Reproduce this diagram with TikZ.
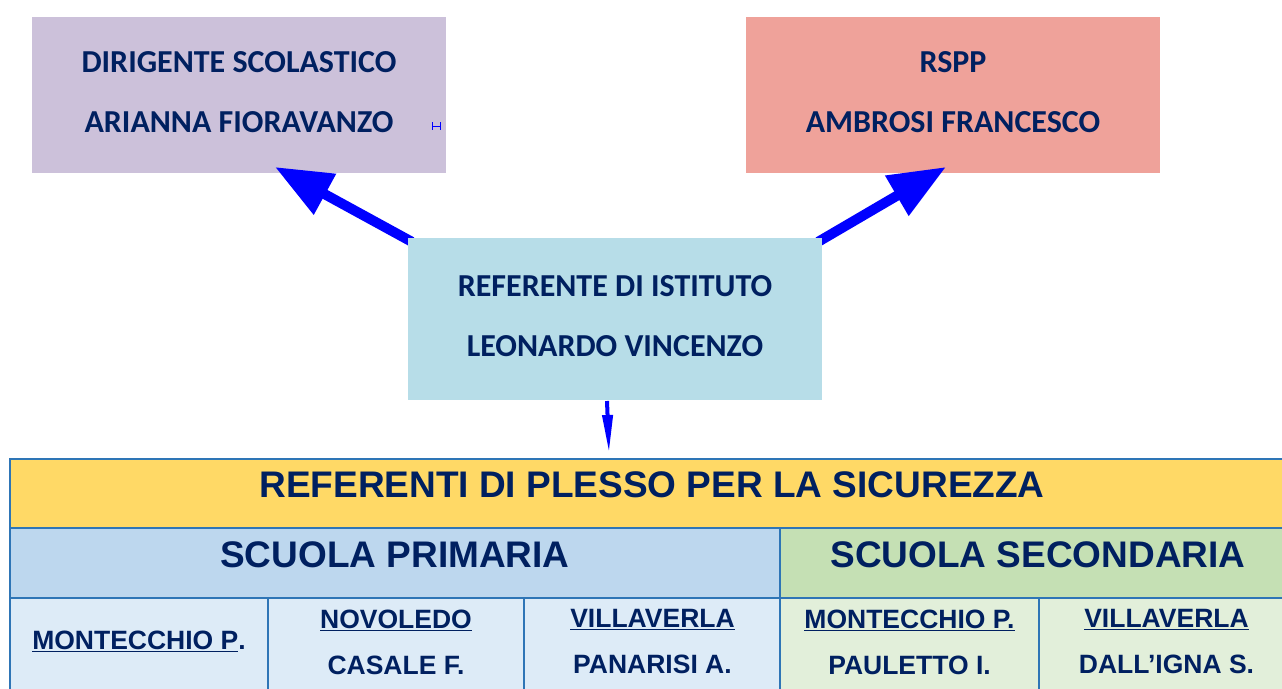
\documentclass[tikz,border=0pt]{standalone}
\usepackage{fontspec}
\setmainfont{Liberation Sans}
\newfontfamily\carl{Carlito}
\usetikzlibrary{arrows.meta,calc}
\definecolor{lav}{HTML}{CCC1DA}
\definecolor{salm}{HTML}{EFA29A}
\definecolor{midc}{HTML}{B7DDE8}
\definecolor{yel}{HTML}{FFD966}
\definecolor{bluA}{HTML}{BDD7EE}
\definecolor{grnA}{HTML}{C5E0B4}
\definecolor{bluB}{HTML}{DDEBF7}
\definecolor{grnB}{HTML}{E2EFDA}
\definecolor{bord}{HTML}{2E75B6}
\definecolor{navy}{HTML}{002060}
\definecolor{arr}{HTML}{0000FF}
\pgfdeclarelayer{background}
\pgfdeclarelayer{arrowlayer}
\pgfsetlayers{background,arrowlayer,main}
\begin{document}
\begin{tikzpicture}[x=1pt,y=-1pt,
  topbox/.style={rectangle, inner sep=0pt, minimum width=414pt, minimum height=156pt,
     text=navy, align=center, font=\carl\bfseries\fontsize{32}{60}\selectfont},
  cellbox/.style={rectangle, draw=bord, line width=2pt, inner sep=0pt},
  bigtxt/.style={text=navy, inner sep=0pt, font=\bfseries\fontsize{37}{44}\selectfont},
  celltxt/.style={text=navy, inner sep=0pt, align=center, font=\bfseries\fontsize{26.5}{46}\selectfont},
  bigarrow/.style={arr, line width=10pt, -{Triangle[length=57pt,width=44pt]}},
  thinarrow/.style={arr, line width=4pt, -{Triangle[length=38pt,width=10pt]}}
]
\useasboundingbox (0,0) rectangle (1282,688);
\clip (0,0) rectangle (1282,688);

% top boxes
\begin{pgfonlayer}{background}
\node[topbox, fill=lav] (dir) at (239,95) {};
\node[topbox, fill=salm] (rspp) at (953,95) {};
\end{pgfonlayer}
\node[topbox] (dirt) at (239,92) {DIRIGENTE SCOLASTICO\\ARIANNA FIORAVANZO};
\node[topbox] (rsppt) at (953,92) {RSPP\\AMBROSI FRANCESCO};
\node[topbox, fill=midc, minimum height=162pt] (mid) at (615,319) {};
\node[topbox] (midt) at (615,316.5) {REFERENTE DI ISTITUTO\\LEONARDO VINCENZO};

% small mark
\coordinate (mk) at (436,126);
\draw[arr, line width=1pt] ($(mk)+(-4,-4)$) -- ($(mk)+(-4,4)$)
  ($(mk)+(4,-4)$) -- ($(mk)+(4,4)$) ($(mk)+(-4,0)$) -- ($(mk)+(4,0)$);

% arrows
\coordinate (t1) at (275,167);
\coordinate (t2) at (946,167);
\coordinate (s3) at (607,401);
\coordinate (t3) at (609,453);
\begin{pgfonlayer}{arrowlayer}
\draw[bigarrow] ($(mid.north west)+(4,4)$) -- (t1);
\draw[bigarrow] ($(mid.north east)+(-4,4)$) -- (t2);
\end{pgfonlayer}
\draw[thinarrow] (s3) -- (t3);

% table
\node[cellbox, fill=yel, minimum width=1285pt, minimum height=69pt] (hdr) at (652.5,493.5) {};
\node[bigtxt] (hdrt) at (652,485) {REFERENTI DI PLESSO PER LA SICUREZZA};

\node[cellbox, fill=bluA, minimum width=770pt, minimum height=70pt] (prim) at (395,563) {};
\node[cellbox, fill=grnA, minimum width=515pt, minimum height=70pt] (sec) at (1037.5,563) {};
\node[bigtxt] (primt) at (395,555) {SCUOLA PRIMARIA};
\node[bigtxt] (sect) at (1038,555) {SCUOLA SECONDARIA};

\node[cellbox, fill=bluB, minimum width=258pt, minimum height=100pt] (c1) at (139,648) {};
\node[cellbox, fill=bluB, minimum width=256pt, minimum height=100pt] (c2) at (396,648) {};
\node[cellbox, fill=bluB, minimum width=256pt, minimum height=100pt] (c3) at (652,648) {};
\node[cellbox, fill=grnB, minimum width=259pt, minimum height=100pt] (c4) at (909.5,648) {};
\node[cellbox, fill=grnB, minimum width=256pt, minimum height=100pt] (c5) at (1167,648) {};

\node[celltxt] (c1t) at (139,641) {\underline{MONTECCHIO P}.};
\node[celltxt] (c2t) at (396,642) {\underline{NOVOLEDO}\\CASALE F.};
\node[celltxt] (c3t) at (652.5,642) {\underline{VILLAVERLA}\\PANARISI A.};
\node[celltxt] (c4t) at (909.5,642) {\underline{MONTECCHIO P.}\\PAULETTO I.};
\node[celltxt] (c5t) at (1166.5,642) {\underline{VILLAVERLA}\\DALL’IGNA S.};
\end{tikzpicture}
\end{document}
